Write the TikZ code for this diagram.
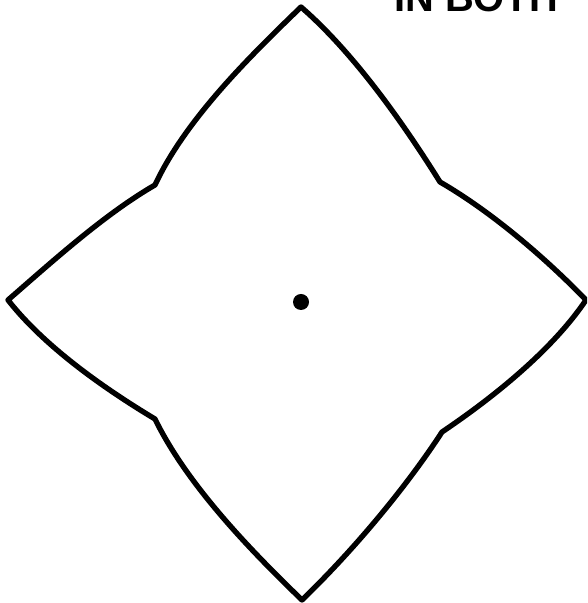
\documentclass[tikz,border=0pt]{standalone}
\usepackage{fontspec}
\setmainfont{Liberation Sans}
\begin{document}
\begin{tikzpicture}[x=0.3mm,y=0.3mm,
		outline/.style={black, line width=1.6mm, line join=round, looseness=0.8}]
			\useasboundingbox (0,0) rectangle (587,603);
			\clip (0,0) rectangle (587,603);
			\coordinate (top) at (301,596);
			\coordinate (ul) at (155,418);
			\coordinate (left) at (8,303);
			\coordinate (ll) at (155,184);
			\coordinate (bottom) at (302,3);
			\coordinate (lr) at (442,171);
			\coordinate (right) at (586,303);
			\coordinate (ur) at (440,421);
			\coordinate (centre) at (301,301);
			\node [anchor=base west, inner sep=0pt, font=\fontsize{34}{40}\selectfont\bfseries] (title) at (394,591) {IN BOTH};
			\draw [outline] (top) to[out=224,in=65] (ul) to[out=210,in=41] (left)
				to[out=308,in=149] (ll) to[out=296,in=136] (bottom)
				to[out=44,in=237] (lr) to[out=34,in=236] (right)
				to[out=134,in=330] (ur) to[out=122,in=319] (top) -- cycle;
			\fill [black] (centre) circle (2.4mm);
		\end{tikzpicture}
\end{document}
